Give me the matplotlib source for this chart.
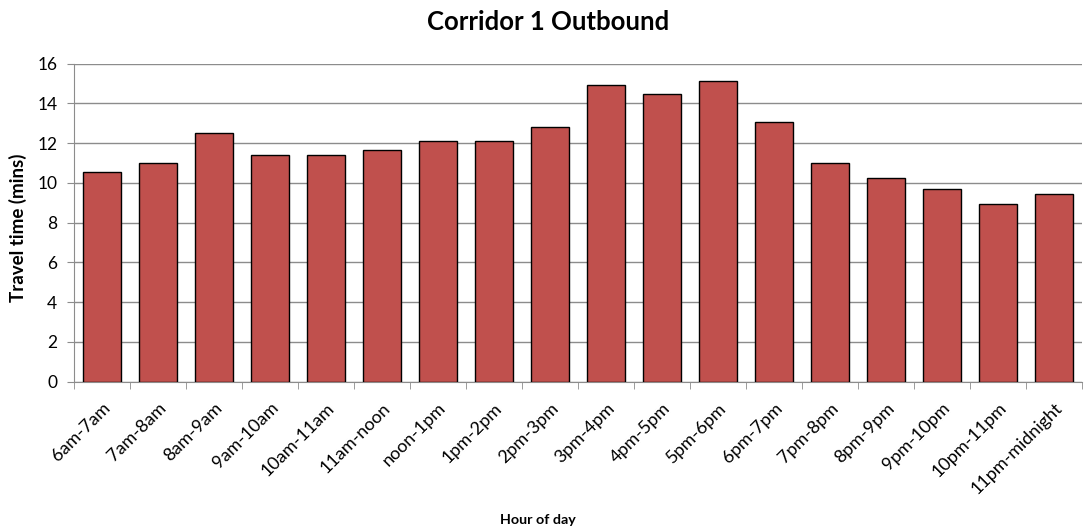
import numpy as np
import matplotlib.pyplot as plt

plt.rcParams['font.family'] = ['Lato', 'DejaVu Sans']

horas = ['6am-7am', '7am-8am', '8am-9am', '9am-10am', '10am-11am', '11am-noon',
         'noon-1pm', '1pm-2pm', '2pm-3pm', '3pm-4pm', '4pm-5pm', '5pm-6pm',
         '6pm-7pm', '7pm-8pm', '8pm-9pm', '9pm-10pm', '10pm-11pm', '11pm-midnight']
tiempos = [10.56, 11.01, 12.49, 11.38, 11.38, 11.66, 12.09, 12.09, 12.8,
           14.93, 14.46, 15.13, 13.07, 11.01, 10.26, 9.69, 8.95, 9.42]

fig = plt.figure(figsize=(10.88, 5.30), dpi=100)
ax = fig.add_axes([0.068, 0.2798, 0.9265, 0.6002])

x = np.arange(len(horas))
ax.bar(x, tiempos, width=0.68, color='#C0504D', edgecolor='black', linewidth=1, zorder=3)

ax.set_xlim(-0.5, len(horas) - 0.5)
ax.set_ylim(0, 16)
ax.set_yticks(np.arange(0, 17, 2))
ax.yaxis.grid(True, color='#8c8c8c', linewidth=1, zorder=0)

ax.set_xticks(x)
ax.set_xticklabels(horas, rotation=45, ha='right', rotation_mode='anchor', fontsize=13)
ax.tick_params(axis='x', which='major', length=0, pad=13)
ax.set_xticks(np.arange(-0.5, len(horas), 1), minor=True)
ax.tick_params(axis='x', which='minor', length=5, color='#8c8c8c', direction='out')
ax.tick_params(axis='y', length=5, color='#8c8c8c', labelsize=12.5, pad=7)

for lado in ['top', 'right']:
    ax.spines[lado].set_visible(False)
ax.spines['left'].set_color('#8c8c8c')
ax.spines['bottom'].set_color('#8c8c8c')

fig.text(0.504, 1 - 22 / 530, 'Corridor 1 Outbound', ha='center', va='center',
         fontsize=18.5, fontweight='bold')
ax.set_ylabel('Travel time (mins)', fontsize=13.5, fontweight='bold')
ax.yaxis.set_label_coords(-0.047, 0.485)
fig.text(0.494, 1 - 520 / 530, 'Hour of day', ha='center', va='center',
         fontsize=10.3, fontweight='bold')

fig.savefig('out.png', dpi=100)
